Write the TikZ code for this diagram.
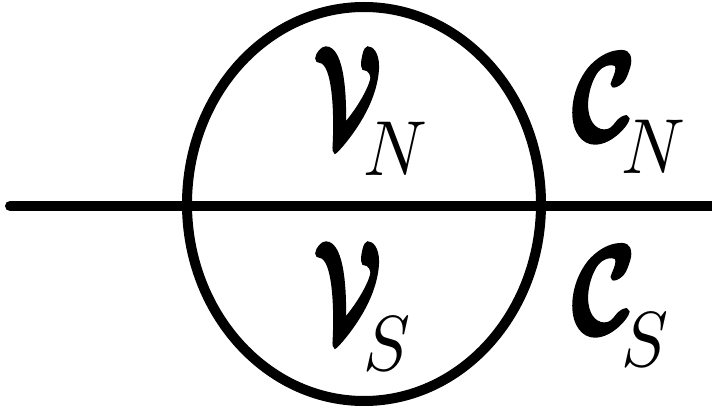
\documentclass[tikz,border=0pt]{standalone}
\usepackage{amsmath,bm,graphicx}
\newcommand\fatten[1]{\special{pdf:literal direct 2 Tr 0.35 w}#1\special{pdf:literal direct 0 Tr}}
\newcommand\calV{\scalebox{8.2}[13.6]{\fatten{$\bm{\mathcal{V}}$}}}
\newcommand\calC{\scalebox{9.6}[12.5]{\fatten{$\bm{\mathcal{C}}$}}}
\newcommand\subl[1]{\raisebox{-33pt}{\scalebox{7.0}[7.8]{$#1$}}}
\tikzset{
  stroke/.style={line width=10pt, black},
  lbl/.style={anchor=base west, inner sep=0pt, outer sep=0pt}
}
\begin{document}
\begin{tikzpicture}[x=1pt,y=-1pt]
\useasboundingbox (0,0) rectangle (712,414);
\draw[stroke] (364,204) ellipse [x radius=177, y radius=197];
\coordinate (lineL) at (10,206);
\coordinate (lineR) at (712,206);
\draw[stroke, line cap=round] (lineL) -- (lineR);
\node[lbl] (vn) at (314,142) {\calV\kern-18pt\subl{N}};
\node[lbl] (vs) at (314,337) {\calV\kern-18pt\subl{S}};
\node[lbl] (cn) at (572,140) {\calC\kern-14pt\subl{N}};
\node[lbl] (cs) at (572,333) {\calC\kern-14pt\subl{S}};
\end{tikzpicture}
\end{document}
